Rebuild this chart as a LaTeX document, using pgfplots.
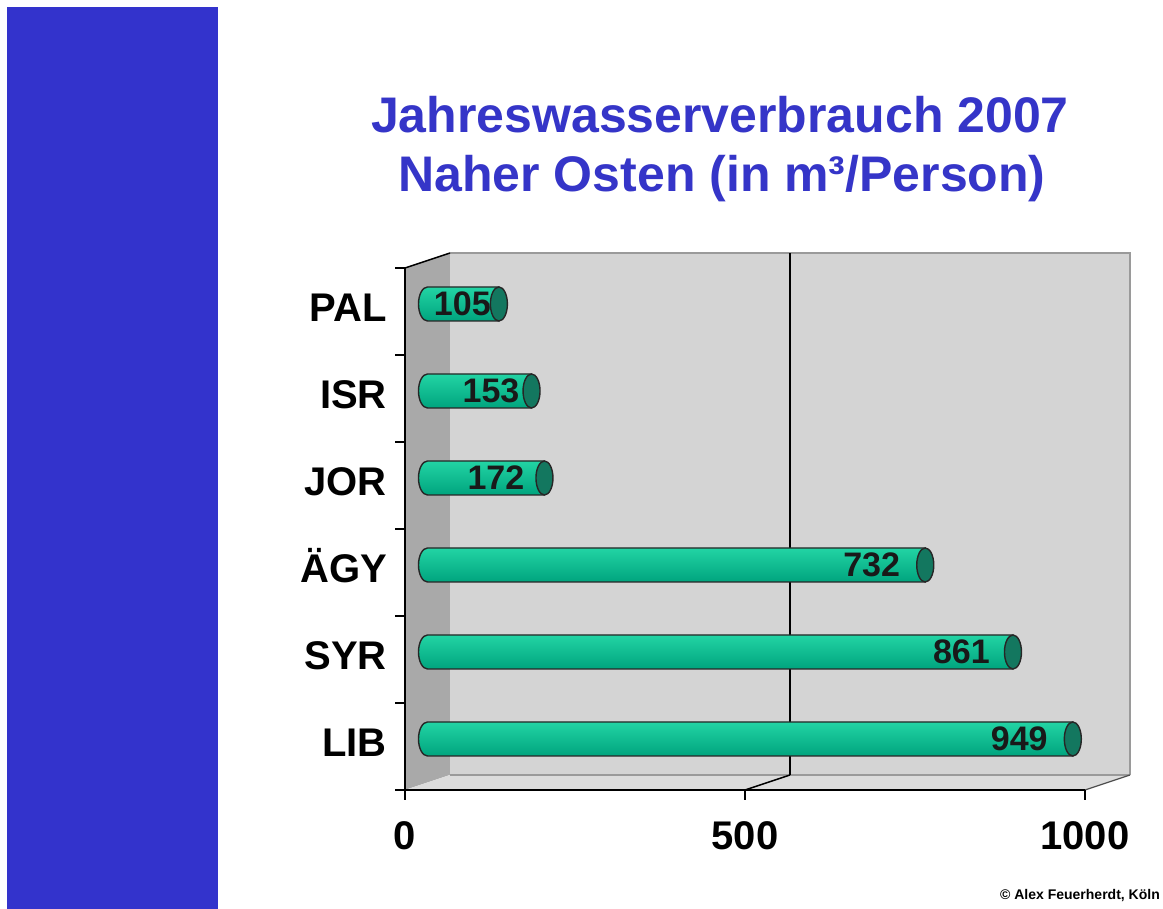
\documentclass[border=0pt]{standalone}
\usepackage{fontspec}
\setmainfont{Liberation Sans}
\usepackage{pgfplots}
\usepackage{pgfplotstable}
\pgfplotsset{compat=1.18}
\definecolor{sidebar}{HTML}{3333CC}
\definecolor{titleblue}{HTML}{3535C8}
\definecolor{backwall}{HTML}{D4D4D4}
\definecolor{sidewall}{HTML}{A9A9A9}
\definecolor{floorc}{HTML}{DCDCDC}
\definecolor{edgegray}{HTML}{9A9A9A}
\definecolor{cylTop}{HTML}{22D4A4}
\definecolor{cylBot}{HTML}{00A47E}
\definecolor{cylCap}{HTML}{13775F}
\pgfdeclareplotmark{none0}{}
\pgfplotstableread{
y v lx
6 105 -8
5 153 -12
4 172 -20
3 732 -25
2 861 -23
1 949 -25
}\wasser
\newcommand\bigfont[1]{\fontsize{#1}{#1}\selectfont\bfseries}
\begin{document}
\begin{tikzpicture}
\useasboundingbox (0pt,0pt) rectangle (1163pt,909pt);
\fill[white] (0pt,0pt) rectangle (1163pt,909pt);
\fill[sidebar] (7pt,0pt) rectangle (218pt,902pt);
\node[anchor=base, text=titleblue, font=\bigfont{50}, inner sep=0pt] at (720pt,776pt) {Jahreswasserverbrauch 2007};
\node[anchor=base, text=titleblue, font=\bigfont{50}, inner sep=0pt] at (722pt,717pt) {Naher Osten (in m³/Person)};
\node[anchor=base east, font=\fontsize{14}{14}\selectfont\bfseries, inner sep=0pt] at (1160pt,9pt) {© Alex Feuerherdt, Köln};
\begin{axis}[
  at={(405pt,119pt)}, anchor=south west,
  scale only axis, width=680pt, height=522pt,
  xmin=0, xmax=1000, ymin=0.5, ymax=6.5,
  clip=false,
  axis line style={draw=none},
  tick style={draw=none},
  major tick length=0pt, minor tick length=0pt,
  xtick={0,500,1000}, xticklabels={0,500,1000},
  ytick={1,2,3,4,5,6}, yticklabels={LIB,SYR,ÄGY,JOR,ISR,PAL},
  xticklabel style={anchor=base, inner sep=0pt, yshift=-60pt, font=\bigfont{40}},
  yticklabel style={anchor=base east, inner sep=0pt, xshift=-18pt, yshift=-10.5pt, font=\bigfont{40}},
]
% side wall
\fill[sidewall] (axis cs:0,0.5) -- (axis cs:0,6.5) -- ([shift={(45pt,15pt)}]axis cs:0,6.5) -- ([shift={(45pt,15pt)}]axis cs:0,0.5) -- cycle;
% back wall
\fill[backwall] ([shift={(45pt,15pt)}]axis cs:0,0.5) rectangle ([shift={(45pt,15pt)}]axis cs:1000,6.5);
\draw[edgegray, line width=1.5pt] ([shift={(45pt,15pt)}]axis cs:0,6.5) -- ([shift={(45pt,15pt)}]axis cs:1000,6.5) -- ([shift={(45pt,15pt)}]axis cs:1000,0.5);
% floor
\fill[floorc] (axis cs:0,0.5) -- (axis cs:1000,0.5) -- ([shift={(45pt,15pt)}]axis cs:1000,0.5) -- ([shift={(45pt,15pt)}]axis cs:0,0.5) -- cycle;
\draw[edgegray, line width=1.2pt] ([shift={(45pt,15pt)}]axis cs:0,0.5) -- ([shift={(45pt,15pt)}]axis cs:1000,0.5);
\draw[black!70, line width=1.2pt] (axis cs:1000,0.5) -- ([shift={(45pt,15pt)}]axis cs:1000,0.5);
% gridline at 500
\draw[black, line width=1.5pt] ([shift={(45pt,15pt)}]axis cs:500,0.5) -- ([shift={(45pt,15pt)}]axis cs:500,6.5);
\draw[black, line width=1.5pt] (axis cs:500,0.5) -- ([shift={(45pt,15pt)}]axis cs:500,0.5);
% front axes
\draw[black, line width=2pt] (axis cs:0,6.5) -- (axis cs:0,0.5) -- (axis cs:1000,0.5);
\draw[black, line width=1.5pt] (axis cs:0,6.5) -- ([shift={(45pt,15pt)}]axis cs:0,6.5);
\pgfplotsinvokeforeach{0.5,1.5,2.5,3.5,4.5,5.5,6.5}{\draw[black, line width=1.5pt] (axis cs:0,#1) -- ++(-10pt,0pt);}
\pgfplotsinvokeforeach{0,500,1000}{\draw[black, line width=1.5pt] (axis cs:#1,0.5) -- ++(0pt,-10pt);}
% cylinders
\addplot[
  scatter, only marks, mark=none0,
  point meta=explicit symbolic,
  visualization depends on={rawx \as \val},
  scatter/@pre marker code/.code={%
    \pgfmathsetmacro\cylX{22.5-0.68*\val}%
    \pgfmathsetmacro\labX{22.5+\pgfplotspointmeta}%
    \pgfmathtruncatemacro\valint{round(\val)}%
    \path[draw=black!85, line width=1.4pt, top color=cylTop, bottom color=cylBot]
      (22.5pt,24.5pt) -- (\cylX pt,24.5pt) arc[start angle=90, end angle=270, x radius=9pt, y radius=17pt] -- (22.5pt,-9.5pt) -- cycle;
    \draw[fill=cylCap, draw=black!85, line width=1.4pt] (22.5pt,7.5pt) ellipse[x radius=8.5pt, y radius=17pt];
    \node[anchor=base east, inner sep=0pt, font=\bigfont{34}, text=black!90] at (\labX pt,-4.5pt) {\valint};
  },
  scatter/@post marker code/.code={},
] table[x=v, y=y, meta=lx] {\wasser};
\end{axis}
\end{tikzpicture}
\end{document}
